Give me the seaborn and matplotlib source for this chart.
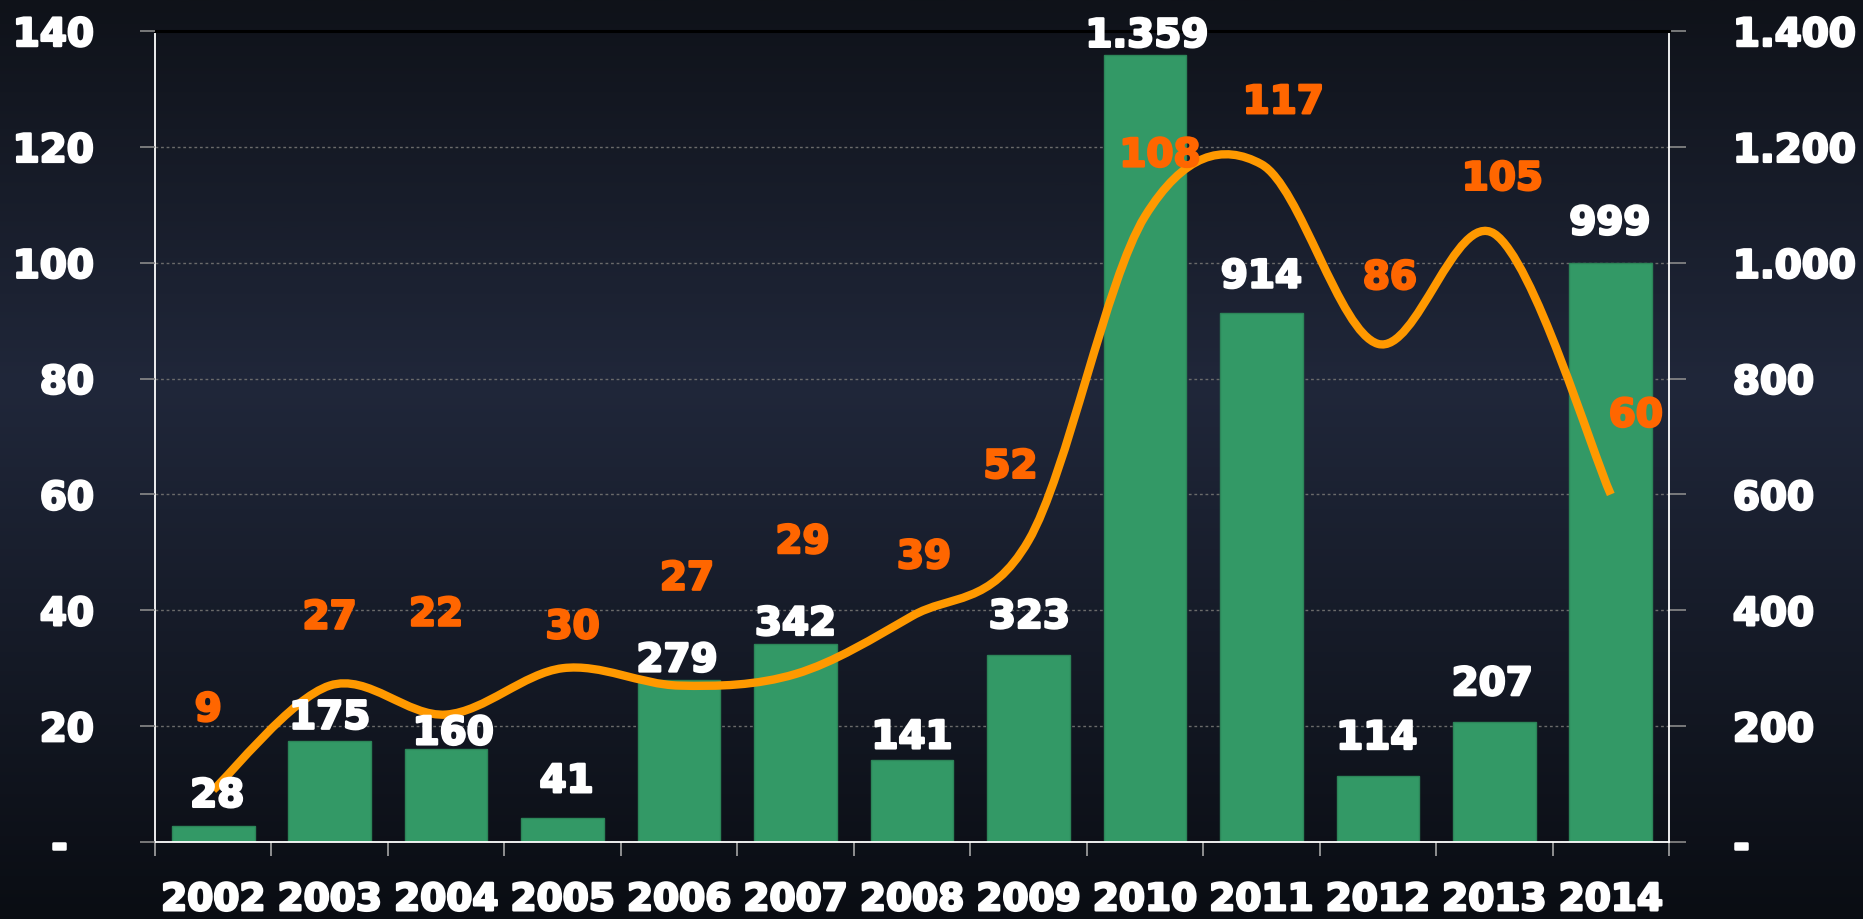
import numpy as np
import matplotlib
matplotlib.use("Agg")
import matplotlib.pyplot as plt
import matplotlib.patheffects as pe
from matplotlib.path import Path
from matplotlib.patches import PathPatch
from matplotlib.colors import LinearSegmentedColormap
import seaborn as sns

# ----------------------------------------------------------------
# Data
# ----------------------------------------------------------------
years = ["2002", "2003", "2004", "2005", "2006", "2007", "2008",
         "2009", "2010", "2011", "2012", "2013", "2014"]
bar_values = [28, 175, 160, 41, 279, 342, 141, 323, 1359, 914, 114, 207, 999]
line_values = [9, 27, 22, 30, 27, 29, 39, 52, 108, 117, 86, 105, 60]

left_ticks = [0, 20, 40, 60, 80, 100, 120, 140]
left_tick_labels = ["-  ", "20", "40", "60", "80", "100", "120", "140"]
right_ticks = [0, 200, 400, 600, 800, 1000, 1200, 1400]
right_tick_labels = ["-", "200", "400", "600", "800", "1.000", "1.200", "1.400"]


def fmt_thousands(v):
    return f"{v:,}".replace(",", ".")


# label offsets in pixels (dx, dy), hand placed like the original
bar_label_offsets = [(4, 30), (0, 23), (7, 16), (4, 37), (-2, 20), (0, 20), (0, 23),
                     (1, 38), (2, 19), (0, 36), (-1, 38), (-2, 38), (-1, 40)]
line_label_offsets = [(-5, 80), (0, 68), (-10, 100), (10, 41), (8, 107), (7, 132), (12, 59),
                      (-18, 74), (15, 61), (22, 62), (12, 66), (8, 55), (25, 79)]

GREEN = "#339966"
LINE_ORANGE = "#ff9900"
LABEL_ORANGE = "#ff6600"


def heavy(color, w=1.8):
    # thicken the glyphs a bit, the original uses a very heavy face
    return [pe.withStroke(linewidth=w, foreground=color)]


def smooth_path(xs, ys, t=1 / 6):
    # Bezier smoothing through the points (like a spreadsheet "smoothed line")
    pts = np.column_stack([xs, ys]).astype(float)
    n = len(pts)
    verts = [pts[0]]
    codes = [Path.MOVETO]
    for i in range(n - 1):
        p0 = pts[i - 1] if i > 0 else pts[i]
        p1 = pts[i]
        p2 = pts[i + 1]
        p3 = pts[i + 2] if i + 2 < n else pts[i + 1]
        verts += [p1 + (p2 - p0) * t, p2 - (p3 - p1) * t, p2]
        codes += [Path.CURVE4] * 3
    return Path(verts, codes)


def main():
    sns.set_style("ticks")
    plt.rcParams["font.family"] = ["DejaVu Sans"]
    plt.rcParams["font.weight"] = "bold"

    fig = plt.figure(figsize=(18.63, 9.2), dpi=100)

    # gradient background
    bg = fig.add_axes([0, 0, 1, 1], zorder=-1)
    cmap = LinearSegmentedColormap.from_list(
        "bg", [(0.0, "#0f1219"), (0.42, "#20273a"), (1.0, "#0a0d13")])
    grad = np.linspace(0, 1, 512).reshape(-1, 1)
    bg.imshow(grad, aspect="auto", cmap=cmap, extent=[0, 1, 0, 1])
    bg.axis("off")

    ax = fig.add_axes([155 / 1863, 77 / 920, 1514 / 1863, 811 / 920])
    ax.patch.set_visible(False)

    # bars on the right-hand scale
    sns.barplot(x=years, y=bar_values, ax=ax, color=GREEN, saturation=1,
                width=0.71, edgecolor="#2c8558", linewidth=1)
    ax.set_ylim(0, 1400)
    ax.set_xlim(-0.5, 12.5)
    ax.set_xlabel("")
    ax.set_ylabel("")

    ax_line = ax.twinx()
    ax_line.patch.set_visible(False)
    ax.yaxis.tick_right()
    ax_line.yaxis.tick_left()

    # smoothed line on the left-hand scale
    path = smooth_path(np.arange(len(years)), line_values)
    ax_line.add_patch(PathPatch(path, facecolor="none", edgecolor=LINE_ORANGE,
                                lw=6, capstyle="butt", joinstyle="round", zorder=3))
    ax_line.set_ylim(0, 140)
    ax_line.set_xlim(-0.5, 12.5)

    # grid behind the bars
    ax.set_axisbelow(True)
    ax.yaxis.grid(True, color="#6b6b6b", linestyle=(0, (2, 2)), linewidth=1)
    ax.xaxis.grid(False)

    # ticks
    ax.set_yticks(right_ticks, right_tick_labels)
    ax.tick_params(axis="y", which="major", direction="out", length=12, width=1.2,
                   color="#8a8a8a", pad=34, labelsize=28, labelcolor="white",
                   left=False, right=True, labelleft=False, labelright=True)
    ax_line.set_yticks(left_ticks, left_tick_labels)
    ax_line.tick_params(axis="y", which="major", direction="out", length=11, width=1.2,
                        color="#8a8a8a", pad=33, labelsize=28, labelcolor="white",
                        left=True, right=False, labelleft=True, labelright=False)

    ax.set_xticks(range(len(years)), years)
    ax.set_xticks(np.arange(-0.5, len(years), 1), minor=True)
    ax.tick_params(axis="x", which="major", length=0, pad=29, labelsize=27,
                   labelcolor="white")
    ax.tick_params(axis="x", which="minor", direction="out", length=10, width=1.2,
                   color="#a5a5a5")

    for lab in ax.get_xticklabels() + ax.get_yticklabels() + ax_line.get_yticklabels():
        lab.set_path_effects(heavy("white"))

    # spines
    for a in (ax, ax_line):
        for s in a.spines.values():
            s.set_visible(False)
    for side in ("left", "right", "bottom"):
        ax.spines[side].set_visible(True)
        ax.spines[side].set_color("white")
        ax.spines[side].set_linewidth(1.3)
    ax.spines["top"].set_visible(True)
    ax.spines["top"].set_color("black")
    ax.spines["top"].set_linewidth(2.2)

    # data labels (drawn on the upper axes so they sit over the line)
    for i, v in enumerate(bar_values):
        dx, dy = bar_label_offsets[i]
        ax_line.annotate(fmt_thousands(v), (i, v), xycoords=ax.transData,
                         xytext=(dx, dy), textcoords="offset pixels",
                         ha="center", va="center", color="white", fontsize=28,
                         fontweight="bold", zorder=5, path_effects=heavy("white"))
    for i, v in enumerate(line_values):
        dx, dy = line_label_offsets[i]
        ax_line.annotate(str(v), (i, v), xytext=(dx, dy), textcoords="offset pixels",
                         ha="center", va="center", color=LABEL_ORANGE, fontsize=28,
                         fontweight="bold", zorder=5, path_effects=heavy(LABEL_ORANGE))

    fig.savefig("out.png", dpi=100)
    plt.close(fig)


if __name__ == "__main__":
    main()
